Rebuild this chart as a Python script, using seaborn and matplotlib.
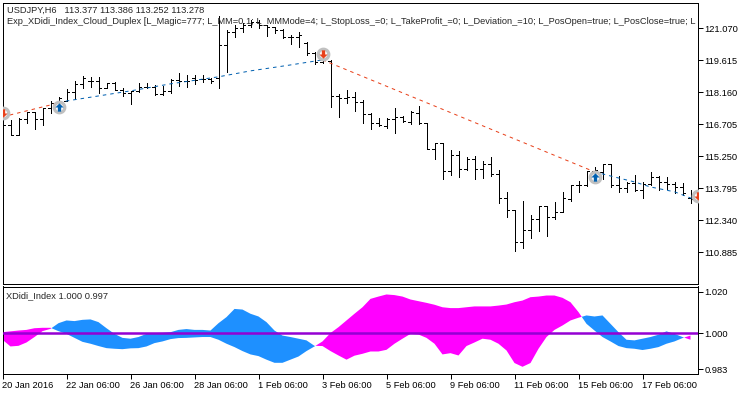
"""USDJPY H6 bar chart with XDidi_Index cloud pane below."""

import numpy as np
import pandas as pd
import matplotlib
matplotlib.use("Agg")
import matplotlib.pyplot as plt
import seaborn as sns

opens = [117.36, 116.68, 116.23, 116.95, 117.27, 116.95, 117.46, 117.68, 117.77, 118.18,
         118.55, 118.68, 118.68, 118.36, 118.59, 118.27, 118.14, 118.23, 118.41, 118.41,
         118.09, 118.23, 118.73, 118.68, 118.82, 118.77, 118.77, 118.82, 120.32, 120.91,
         121.09, 121.23, 121.37, 121.23, 121.14, 121.00, 120.68, 120.68, 120.41, 119.96,
         119.55, 119.59, 118.00, 117.91, 117.96, 117.73, 117.18, 116.77, 116.64, 116.95,
         117.05, 116.82, 117.23, 116.77, 115.59, 115.86, 114.59, 115.32, 114.68, 115.14,
         114.68, 114.91, 114.45, 113.36, 112.82, 111.36, 111.91, 112.41, 113.00, 112.50,
         112.73, 113.32, 113.95, 113.95, 114.59, 114.55, 114.91, 113.95, 113.82, 114.05,
         113.73, 114.00, 114.32, 114.09, 114.00, 113.86, 113.36]
highs = [117.46, 116.91, 117.00, 117.27, 117.27, 117.46, 117.77, 117.96, 118.32, 118.68,
         118.91, 118.87, 118.87, 118.59, 118.64, 118.36, 118.23, 118.59, 118.59, 118.50,
         118.46, 118.77, 119.05, 118.96, 118.96, 118.96, 118.82, 121.64, 121.00, 121.23,
         121.32, 121.46, 121.46, 121.23, 121.14, 121.05, 120.77, 120.91, 120.46, 120.00,
         119.87, 119.64, 118.09, 118.27, 118.18, 117.82, 117.23, 117.00, 117.00, 117.46,
         117.09, 117.32, 117.55, 116.77, 115.86, 115.86, 115.55, 115.50, 115.23, 115.27,
         115.05, 115.23, 114.64, 113.64, 112.82, 113.23, 112.59, 113.00, 113.00, 113.18,
         113.64, 113.95, 114.14, 114.59, 114.77, 114.91, 114.91, 114.36, 114.09, 114.41,
         114.09, 114.55, 114.36, 114.32, 114.09, 114.05, 113.73]
lows = [116.68, 116.23, 116.23, 116.77, 116.50, 116.68, 117.23, 117.36, 117.77, 117.87,
        118.36, 118.41, 118.14, 118.36, 118.27, 118.00, 117.64, 118.18, 118.36, 118.05,
        118.05, 118.14, 118.46, 118.41, 118.55, 118.64, 118.59, 118.36, 119.09, 120.68,
        120.91, 121.14, 121.09, 120.73, 120.87, 120.64, 120.37, 120.23, 119.87, 119.46,
        119.50, 117.50, 117.05, 117.68, 117.32, 116.77, 116.50, 116.64, 116.55, 116.32,
        116.82, 116.73, 116.73, 115.59, 115.14, 114.23, 114.41, 114.32, 114.64, 114.23,
        114.27, 114.36, 113.14, 112.50, 110.95, 111.09, 111.54, 111.86, 111.63, 112.41,
        112.73, 113.23, 113.64, 113.91, 114.05, 114.23, 113.86, 113.64, 113.64, 113.68,
        113.36, 113.95, 113.73, 113.77, 113.59, 113.50, 113.14]
closes = [116.68, 116.23, 116.95, 117.27, 116.95, 117.46, 117.68, 117.91, 118.18, 118.55,
          118.82, 118.68, 118.36, 118.59, 118.27, 118.14, 118.23, 118.41, 118.41, 118.09,
          118.23, 118.73, 118.68, 118.68, 118.73, 118.77, 118.68, 120.32, 120.91, 121.09,
          121.23, 121.37, 121.23, 121.14, 121.00, 120.68, 120.68, 120.77, 119.96, 119.55,
          119.64, 118.00, 117.91, 117.96, 117.73, 117.18, 116.77, 116.68, 116.95, 117.05,
          116.86, 117.27, 116.77, 115.59, 115.86, 114.59, 115.32, 114.68, 115.14, 114.68,
          114.91, 114.45, 113.36, 112.82, 111.36, 111.91, 112.41, 113.00, 112.50, 112.73,
          113.36, 113.95, 113.95, 114.59, 114.64, 114.91, 113.95, 113.82, 114.05, 113.73,
          114.00, 114.32, 114.09, 114.00, 113.86, 113.59, 113.32]

# XDidi_Index pair, the cloud fill sits between them
fast_line = [1.0006, 1.0010, 1.0014, 1.0017, 1.0025, 1.0027, 1.0027,
             1.0011, 0.9998, 0.9979, 0.9960, 0.9951, 0.9940, 0.9930, 0.9927, 0.9925, 0.9929,
             0.9930, 0.9938, 0.9954, 0.9962, 0.9973, 0.9978, 0.9979, 0.9981, 0.9983, 0.9983,
             0.9970, 0.9951, 0.9935, 0.9916, 0.9900, 0.9892, 0.9875, 0.9860, 0.9860, 0.9875,
             0.9890, 0.9916, 0.9938,
             0.9962, 1.0002, 1.0030, 1.0062, 1.0094, 1.0125, 1.0165, 1.0176, 1.0186, 1.0183,
             1.0176, 1.0162, 1.0154, 1.0146, 1.0137, 1.0125, 1.0121, 1.0121, 1.0125, 1.0129,
             1.0129, 1.0129, 1.0133, 1.0138, 1.0149, 1.0157, 1.0173, 1.0176, 1.0181, 1.0181,
             1.0170, 1.0149, 1.0102,
             1.0046, 1.0014, 0.9983, 0.9962, 0.9940, 0.9930, 0.9927, 0.9921, 0.9927, 0.9935,
             0.9951, 0.9962, 0.9978, 0.9990]
slow_line = [0.9970, 0.9938, 0.9941, 0.9957, 0.9983, 1.0011, 1.0022,
             1.0049, 1.0062, 1.0059, 1.0065, 1.0067, 1.0054, 1.0025, 0.9998, 0.9979, 0.9975,
             0.9983, 0.9998, 1.0002, 1.0003, 1.0006, 1.0017, 1.0021, 1.0017, 1.0017, 1.0014,
             1.0049, 1.0078, 1.0117, 1.0114, 1.0094, 1.0081, 1.0054, 1.0014, 0.9990, 0.9983,
             0.9975, 0.9967, 0.9941,
             0.9940, 0.9916, 0.9895, 0.9875, 0.9894, 0.9903, 0.9914, 0.9914, 0.9922, 0.9951,
             0.9975, 0.9998, 0.9995, 0.9979, 0.9951, 0.9900, 0.9906, 0.9895, 0.9940, 0.9957,
             0.9975, 0.9970, 0.9951, 0.9919, 0.9859, 0.9841, 0.9859, 0.9927, 0.9983, 1.0017,
             1.0038, 1.0062, 1.0075,
             1.0086, 1.0081, 1.0086, 1.0046, 1.0006, 0.9970, 0.9967, 0.9975, 0.9983, 0.9994,
             1.0010, 0.9998, 0.9983, 0.9970]

# trade lines, (bar number, price)
sell_a_bar = [0, 7]
sell_a_price = [117.05, 117.68]
buy_a_bar = [7, 8, 12, 16, 21, 27, 31, 36, 40]
buy_a_price = [117.68, 117.77, 118.00, 118.23, 118.55, 118.87, 119.14, 119.41, 119.64]
sell_b_bar = [40, 74]
sell_b_price = [119.64, 114.55]
buy_b_bar = [74, 76, 79, 81, 84, 86, 86.875]
buy_b_price = [114.55, 114.36, 114.09, 113.86, 113.64, 113.36, 113.27]

deal_bar = [0, 7, 40, 74, 86.875]
deal_price = [117.23, 117.50, 119.91, 114.32, 113.45]
deal_side = ["sell", "buy", "sell", "buy", "sell"]

price_ticks = [121.070, 119.615, 118.160, 116.705, 115.250, 113.795, 112.340, 110.885]
index_ticks = [1.020, 1.000, 0.983]
date_ticks = [0, 8, 16, 24, 32, 40, 48, 56, 64, 72, 80]
date_labels = ["20 Jan 2016", "22 Jan 06:00", "26 Jan 06:00", "28 Jan 06:00", "1 Feb 06:00",
               "3 Feb 06:00", "5 Feb 06:00", "9 Feb 06:00", "11 Feb 06:00", "15 Feb 06:00",
               "17 Feb 06:00"]

sns.set_style("white")
plt.rcParams["font.family"] = ["Liberation Sans", "DejaVu Sans"]
plt.rcParams["font.size"] = 6.7
plt.rcParams["axes.linewidth"] = 0.72
plt.rcParams["axes.edgecolor"] = "black"

W, H = 750, 394
PX = 0.72
FS = 6.7
BLUE = "#0060b0"
RED = "#e8401a"
UP_ARROW = [(-1, 0), (0, 1), (1, 0), (0.4, 0), (0.4, -1), (-0.4, -1), (-0.4, 0), (-1, 0)]
DOWN_ARROW = [(x, -y) for x, y in UP_ARROW]

fig = plt.figure(figsize=(W / 100, H / 100), dpi=100, facecolor="white")


def pane(top, bottom):
    return fig.add_axes([2.5 / W, 1 - bottom / H, 695 / W, (bottom - top) / H])


ax = pane(2.5, 283.5)
ax2 = pane(286.5, 373.5)

bars = pd.DataFrame({"bar": np.arange(len(opens)), "open": opens, "high": highs,
                     "low": lows, "close": closes})

# --- price pane ---
ax.vlines(bars["bar"], bars["low"], bars["high"], color="black", lw=PX, antialiased=False)
ax.hlines(bars["open"], bars["bar"] - 0.3, bars["bar"], color="black", lw=PX, antialiased=False)
ax.hlines(bars["close"], bars["bar"], bars["bar"] + 0.3, color="black", lw=PX, antialiased=False)

for xs, ys, col in [(sell_a_bar, sell_a_price, RED), (buy_a_bar, buy_a_price, BLUE),
                    (sell_b_bar, sell_b_price, RED), (buy_b_bar, buy_b_price, BLUE)]:
    sns.lineplot(x=xs, y=ys, ax=ax, color=col, lw=PX, linestyle=(0, (3.5, 4)),
                 estimator=None, sort=False, legend=False, zorder=3)

sns.scatterplot(x=deal_bar, y=deal_price, ax=ax, s=58, facecolor="white", edgecolor="#c0c0c0",
                linewidth=2.3, legend=False, zorder=4)
for x, y, side in zip(deal_bar, deal_price, deal_side):
    ax.scatter([x], [y], s=36, marker=UP_ARROW if side == "buy" else DOWN_ARROW,
               color=BLUE if side == "buy" else RED, linewidths=0, zorder=5)

ax.set_xlim(0, 86.875)
ax.set_ylim(109.47, 122.25)
ax.yaxis.tick_right()
ax.set_yticks(price_ticks, [f"{t:.3f}" for t in price_ticks])
ax.set_xticks([])

ax.text(4.5 / 695, 1 - 10.5 / 281, "USDJPY,H6   113.377 113.386 113.252 113.278",
        transform=ax.transAxes, fontsize=FS, va="baseline", ha="left", zorder=6)
ax.text(4.5 / 695, 1 - 21.5 / 281,
        "Exp_XDidi_Index_Cloud_Duplex [L_Magic=777; L_MM=0.1; L_MMMode=4; L_StopLoss_=0; "
        "L_TakeProfit_=0; L_Deviation_=10; L_PosOpen=true; L_PosClose=true; L",
        transform=ax.transAxes, fontsize=FS, va="baseline", ha="left", clip_on=True, zorder=6)

# --- indicator pane ---
x_idx = bars["bar"].to_numpy()
fast = np.array(fast_line)
slow = np.array(slow_line)
ax2.fill_between(x_idx, fast, slow, where=fast >= slow, interpolate=True, color="#ff00ff", lw=0)
ax2.fill_between(x_idx, fast, slow, where=fast <= slow, interpolate=True, color="#1e90ff", lw=0)
ax2.axhline(1.0, color="#9400d3", lw=1.8, zorder=3)

ax2.set_xlim(0, 86.875)
ax2.set_ylim(0.9809, 1.0224)
ax2.yaxis.tick_right()
ax2.set_yticks(index_ticks, [f"{t:.3f}" for t in index_ticks])
ax2.set_xticks(date_ticks, date_labels, ha="left")
ax2.text(3.5 / 695, 1 - 12 / 87, "XDidi_Index 1.000 0.997", transform=ax2.transAxes,
         fontsize=FS, va="baseline", ha="left", zorder=6)

for a in (ax, ax2):
    a.tick_params(axis="both", which="both", length=3.6, width=PX, color="black",
                  labelcolor="black", labelsize=FS, pad=1.5, bottom=a is ax2, right=True,
                  left=False, labelright=True, labelleft=False)
    for s in a.spines.values():
        s.set_visible(True)
        s.set_linewidth(PX)
        s.set_color("black")

fig.savefig("out.png", dpi=100, facecolor="white")
